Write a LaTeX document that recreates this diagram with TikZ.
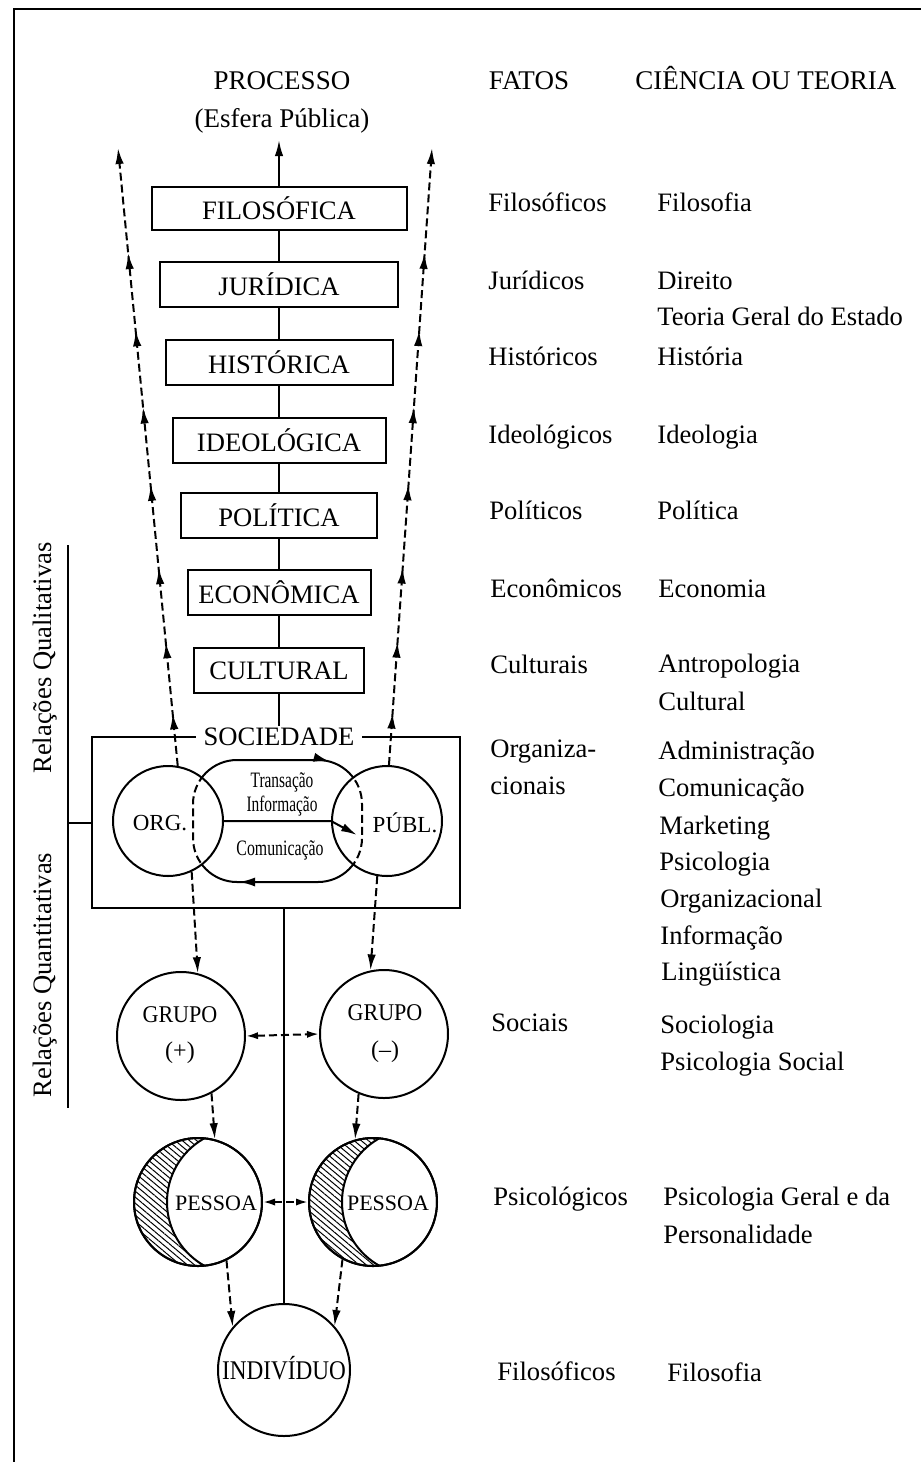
\documentclass[tikz,border=0pt]{standalone}
\usepackage{fontspec}
\setmainfont{Liberation Serif}
\usetikzlibrary{arrows.meta,decorations.markings,patterns.meta}
\newcommand\fz[1]{\fontsize{#1}{#1}\selectfont}
\newcommand\cnd[2]{\scalebox{#1}[1]{#2}}
\begin{document}
\begin{tikzpicture}[x=0.5pt,y=-0.5pt,
  ln/.style={line width=1pt},
  dsh/.style={dash pattern=on 4pt off 2pt},
  tipa/.style={-{Latex[length=8pt,width=4.2pt]}},
  tipb/.style={{Latex[length=6pt,width=3.6pt]}-{Latex[length=6pt,width=3.6pt]}},
  lvl/.style={draw, ln, inner sep=0pt, font=\fz{13.3}},
  circ/.style={draw, ln, circle, fill=white, inner sep=0pt},
  rt/.style={anchor=base west, inner sep=0pt, font=\fz{13.3}},
  hd/.style={anchor=base, inner sep=0pt, font=\fz{13.5}},
  hatch/.style={pattern={Lines[angle=-40,distance=2.3pt,line width=0.5pt]}},
  funnel/.style={ln, dsh, tipa, postaction={decorate, decoration={markings,
     mark=at position 0.085 with {\arrow{Latex[length=8pt,width=4.2pt]}},
     mark=at position 0.2 with {\arrow{Latex[length=8pt,width=4.2pt]}},
     mark=at position 0.32 with {\arrow{Latex[length=8pt,width=4.2pt]}},
     mark=at position 0.455 with {\arrow{Latex[length=8pt,width=4.2pt]}},
     mark=at position 0.58 with {\arrow{Latex[length=8pt,width=4.2pt]}},
     mark=at position 0.705 with {\arrow{Latex[length=8pt,width=4.2pt]}},
     mark=at position 0.83 with {\arrow{Latex[length=8pt,width=4.2pt]}}}}},
  ovalmarks/.style={postaction={decorate, decoration={markings,
     mark=at position 0.03 with {\arrow{Latex[length=8pt,width=4.6pt]}},
     mark=at position 0.49 with {\arrow{Latex[length=8pt,width=4.6pt]}}}}}
]
\useasboundingbox (0,0) rectangle (921,1462);
\fill[white] (0,0) rectangle (921,1462);
% frame
\draw[line width=1.3pt] (921,9) -- (14,9) -- (14,1462);

% headers
\node[hd] (hproc) at (282,89) {PROCESSO};
\node[hd] (hesf) at (282,127) {(Esfera Pública)};
\node[hd] (hfat) at (529,89) {FATOS};
\node[hd, anchor=base west] (hcie) at (635,89) {CIÊNCIA OU TEORIA};

% level boxes
\node[lvl, minimum width=127.5pt, minimum height=21.5pt] (fil) at (279,208.5) {FILOSÓFICA};
\node[lvl, minimum width=119pt, minimum height=22.5pt] (jur) at (279,284.5) {JURÍDICA};
\node[lvl, minimum width=113.5pt, minimum height=22.5pt] (his) at (279,362.5) {HISTÓRICA};
\node[lvl, minimum width=106.5pt, minimum height=22.5pt] (ide) at (279,440.5) {IDEOLÓGICA};
\node[lvl, minimum width=98pt, minimum height=22.5pt] (pol) at (279,515.5) {POLÍTICA};
\node[lvl, minimum width=91.5pt, minimum height=22.5pt] (eco) at (279,592.5) {ECONÔMICA};
\node[lvl, minimum width=85pt, minimum height=22.5pt] (cul) at (279,670.5) {CULTURAL};
\coordinate (ctop) at (279,140);

% sociedade box
\node[draw, ln, minimum width=184pt, minimum height=85.5pt, inner sep=0pt] (socbox) at (276,822.5) {};
\node[fill=white, inner xsep=4pt, inner ysep=1pt, font=\fz{13.3}] (soc) at (279,737) {SOCIEDADE};

% central line
\draw[ln] (soc) -- (cul);
\draw[ln] (cul) -- (eco);
\draw[ln] (eco) -- (pol);
\draw[ln] (pol) -- (ide);
\draw[ln] (ide) -- (his);
\draw[ln] (his) -- (jur);
\draw[ln] (jur) -- (fil);
\draw[ln, tipa] (fil) -- (ctop);

% oval (solid part)
\draw[ln, ovalmarks, rounded corners=22pt] (278,760) -- (362,760) -- (362,882) -- (193,882) -- (193,760) -- cycle;

% org and publ circles
\node[circ, minimum size=55pt] (org) at (168,821) {};
\node[circ, minimum size=55pt] (publ) at (387,821) {};
\begin{scope}
  \clip (org.center) circle[radius=55];
  \draw[ln, dsh, rounded corners=22pt] (278,760) -- (362,760) -- (362,882) -- (193,882) -- (193,760) -- cycle;
\end{scope}
\begin{scope}
  \clip (publ.center) circle[radius=55];
  \draw[ln, dsh, rounded corners=22pt] (278,760) -- (362,760) -- (362,882) -- (193,882) -- (193,760) -- cycle;
\end{scope}
\node[font=\fz{11.5}] (orgt) at (160,823) {ORG.};
\node[font=\fz{11.5}] (publt) at (405,823) {PÚBL.};
\coordinate (hend) at (357,835);
\draw[ln, tipa] (org.east) -- (publ.west) -- (hend);
\node[font=\fz{11}] (ttra) at (282,782) {\cnd{0.7}{Transação}};
\node[font=\fz{11}] (tinf) at (282,806) {\cnd{0.7}{Informação}};
\node[font=\fz{11}] (tcom) at (280,850) {\cnd{0.72}{Comunicação}};

% funnel
\coordinate (ltop) at (118,148);
\coordinate (rtop) at (432,148);
\draw[funnel] (org.80) -- (ltop);
\draw[funnel] (publ.88) -- (rtop);

% bracket and side labels
\coordinate (bt) at (68,545);
\coordinate (bb) at (68,1108);
\draw[ln] (bt) -- (bb);
\draw[ln] (socbox.west) -- (socbox.west -| bt);
\node[rotate=90, font=\fz{13.3}] (rql) at (45,658) {Relações Qualitativas};
\node[rotate=90, font=\fz{13.3}] (rqn) at (45,975) {Relações Quantitativas};

% grupos
\node[circ, minimum size=64pt] (gp) at (181,1036) {};
\node[circ, minimum size=64pt] (gm) at (384,1034) {};
\node[font=\fz{12}] (gpt1) at (180,1015) {\cnd{0.92}{GRUPO}};
\node[font=\fz{12}] (gpt2) at (180,1053) {(+)};
\node[font=\fz{12}] (gmt1) at (385,1013) {\cnd{0.92}{GRUPO}};
\node[font=\fz{12}] (gmt2) at (385,1052) {(--)};
\draw[ln, dsh, tipa] (org.-65) -- (gp.75);
\draw[ln, dsh, tipa] (publ.-100) -- (gm.102);
\draw[ln, dsh, tipb] (gp.east) -- (gm.west);

% individuo and lower central line
\node[circ, minimum size=66pt] (ind) at (284,1370) {};
\node[font=\fz{13.5}] (indt) at (284,1368) {\cnd{0.86}{INDIVÍDUO}};
\draw[ln] (ind.north) -- (ind.north |- socbox.south);

% pessoas
\node[circ, minimum size=64pt] (pl) at (198,1202) {};
\node[circ, minimum size=64pt] (pr) at (373,1202) {};
\begin{scope}
  \clip (pl.center) circle[radius=64];
  \fill[hatch, even odd rule] (pl.center) circle[radius=64] ([xshift=21pt]pl.center) circle[radius=73];
  \draw[ln] ([xshift=21pt]pl.center) circle[radius=73];
\end{scope}
\begin{scope}
  \clip (pr.center) circle[radius=64];
  \fill[hatch, even odd rule] (pr.center) circle[radius=64] ([xshift=21pt]pr.center) circle[radius=73];
  \draw[ln] ([xshift=21pt]pr.center) circle[radius=73];
\end{scope}
\draw[ln] (pl.center) circle[radius=64];
\draw[ln] (pr.center) circle[radius=64];
\node[font=\fz{11}] (plt) at (216,1203) {PESSOA};
\node[font=\fz{11}] (prt) at (388,1203) {PESSOA};
\draw[ln, dsh, tipa] (gp.-62) -- (pl.75);
\draw[ln, dsh, tipa] (gm.-113) -- (pr.106);
\draw[ln, dsh, tipb] (pl.east) -- (pr.west);
\draw[ln, dsh, tipa] (pl.-64) -- (ind.140);
\draw[ln, dsh, tipa] (pr.-118) -- (ind.41);

% right columns
\node[rt] (f1) at (488,211) {Filosóficos};
\node[rt] (c1) at (657,211) {Filosofia};
\node[rt] (f2) at (488,289) {Jurídicos};
\node[rt] (c2a) at (657,289) {Direito};
\node[rt] (c2b) at (657,325) {Teoria Geral do Estado};
\node[rt] (f3) at (488,365) {Históricos};
\node[rt] (c3) at (657,365) {História};
\node[rt] (f4) at (488,443) {Ideológicos};
\node[rt] (c4) at (657,443) {Ideologia};
\node[rt] (f5) at (489,519) {Políticos};
\node[rt] (c5) at (657,519) {Política};
\node[rt] (f6) at (490,597) {Econômicos};
\node[rt] (c6) at (658,597) {Economia};
\node[rt] (f7) at (490,673) {Culturais};
\node[rt] (c7a) at (658,672) {Antropologia};
\node[rt] (c7b) at (658,710) {Cultural};
\node[rt] (f8a) at (490,757) {Organiza-};
\node[rt] (f8b) at (490,794) {cionais};
\node[rt] (c8a) at (658,759) {Administração};
\node[rt] (c8b) at (658,796) {Comunicação};
\node[rt] (c8c) at (659,834) {Marketing};
\node[rt] (c8d) at (659,870) {Psicologia};
\node[rt] (c8e) at (660,907) {Organizacional};
\node[rt] (c8f) at (660,944) {Informação};
\node[rt] (c8g) at (661,980) {Lingüística};
\node[rt] (f9) at (491,1031) {Sociais};
\node[rt] (c9a) at (660,1033) {Sociologia};
\node[rt] (c9b) at (660,1070) {Psicologia Social};
\node[rt] (f10) at (493,1205) {Psicológicos};
\node[rt] (c10a) at (663,1205) {Psicologia Geral e da};
\node[rt] (c10b) at (663,1243) {Personalidade};
\node[rt] (f11) at (497,1380) {Filosóficos};
\node[rt] (c11) at (667,1381) {Filosofia};
\end{tikzpicture}
\end{document}
